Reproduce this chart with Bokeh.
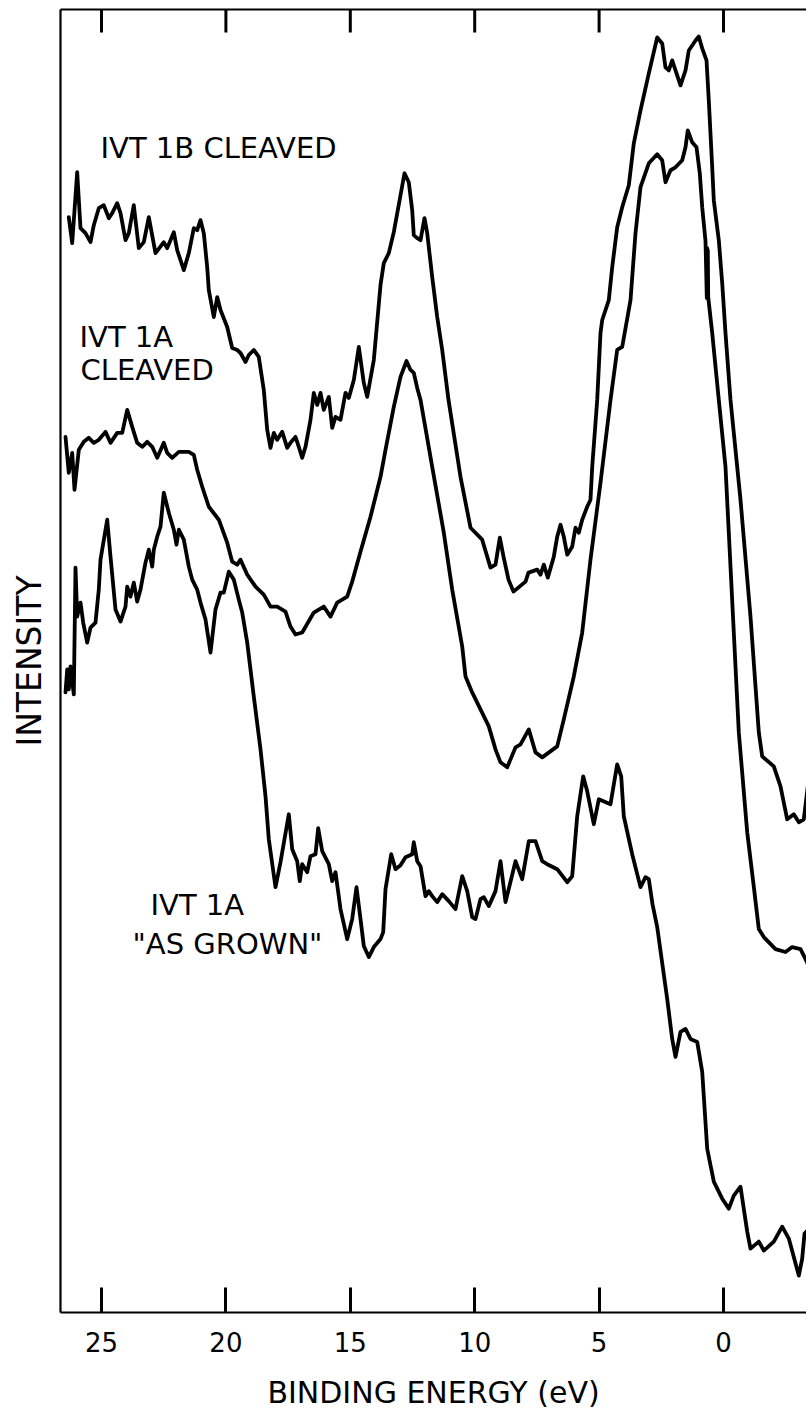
from bokeh.plotting import figure
from bokeh.models import Range1d, LinearAxis, FixedTicker, Label
from bokeh.embed import file_html
from bokeh.resources import INLINE

# Binding energy (eV) and intensity (arb. units) for each spectrum
energy_1b = [26.315, 26.178, 25.977, 25.844, 25.643, 25.442, 25.310, 25.109, 24.908, 24.707,
             24.570, 24.369, 24.236, 24.035, 23.903, 23.702, 23.501, 23.300, 23.099, 22.830,
             22.496, 22.360, 22.094, 21.958, 21.692, 21.491, 21.290, 21.154, 21.021, 20.888,
             20.752, 20.687, 20.486, 20.350, 20.217, 19.948, 19.747, 19.546, 19.413, 19.212,
             19.080, 18.879, 18.678, 18.477, 18.340, 18.207, 18.075, 17.938, 17.737, 17.536,
             17.404, 17.203, 17.070, 16.933, 16.801, 16.600, 16.467, 16.330, 16.198, 16.065,
             15.864, 15.728, 15.595, 15.394, 15.193, 15.060, 14.859, 14.658, 14.457, 14.321,
             14.055, 13.786, 13.654, 13.453, 13.252, 12.982, 12.822, 12.649, 12.512, 12.448,
             12.311, 12.178, 12.018, 11.909, 11.708, 11.507, 11.306, 11.053, 10.571, 10.169,
             9.699, 9.365, 9.164, 8.991, 8.842, 8.641, 8.441, 7.958, 7.838, 7.488,
             7.355, 7.223, 7.062, 6.821, 6.684, 6.551, 6.419, 6.282, 6.081, 5.949,
             5.816, 5.679, 5.478, 5.346, 5.277, 5.076, 4.944, 4.875, 4.610, 4.473,
             4.273, 4.072, 3.806, 3.605, 3.336, 3.002, 2.665, 2.464, 2.331, 2.199,
             2.062, 1.929, 1.728, 1.527, 1.395, 1.125, 0.993, 0.856, 0.683, 0.591,
             0.454, 0.390, 0.189, 0.052, -0.080, -0.281, -0.683, -1.085, -1.419, -1.555,
             -2.022, -2.291, -2.560, -2.826, -3.027, -3.227, -3.336, -3.40]
intensity_1b = [109.7, 107.1, 114.2, 108.6, 108.1, 107.2, 108.9, 110.6, 110.9, 109.6,
                110.1, 111.1, 110.1, 107.4, 108.1, 110.9, 106.6, 107.2, 109.7, 106.1,
                107.2, 106.6, 108.2, 106.4, 104.4, 106.1, 108.6, 108.4, 109.4, 108.1,
                104.7, 102.4, 99.7, 101.7, 100.4, 98.7, 96.6, 96.4, 96.1, 95.2,
                95.9, 96.4, 95.7, 92.4, 88.4, 86.6, 88.1, 87.4, 88.2, 86.6,
                87.1, 87.7, 86.7, 85.6, 86.7, 89.4, 92.1, 90.9, 92.1, 90.4,
                91.7, 88.6, 89.7, 89.4, 92.1, 91.6, 93.4, 96.7, 93.1, 91.7,
                95.4, 102.9, 105.1, 106.1, 108.2, 111.9, 114.1, 113.2, 110.4, 107.9,
                107.6, 107.4, 109.6, 108.1, 103.7, 99.7, 96.4, 91.4, 83.7, 78.6,
                77.4, 74.6, 74.9, 77.6, 75.7, 73.4, 72.2, 73.2, 74.1, 74.4,
                73.9, 74.9, 73.6, 75.7, 77.7, 78.9, 77.7, 75.9, 76.7, 78.6,
                78.1, 79.4, 80.7, 81.4, 84.7, 91.4, 98.1, 99.4, 101.4, 104.7,
                108.7, 110.7, 112.9, 117.1, 120.4, 124.1, 127.7, 127.1, 124.7, 124.4,
                125.4, 124.4, 122.9, 124.4, 126.4, 127.4, 127.8, 126.6, 125.4, 121.4,
                114.7, 111.4, 107.4, 103.1, 98.1, 91.4, 81.4, 69.7, 58.1, 55.7,
                54.7, 52.7, 49.4, 49.9, 49.1, 49.4, 51.6, 53.0]

energy_1a = [26.447, 26.315, 26.178, 26.085, 25.912, 25.711, 25.510, 25.310, 25.109, 24.839,
             24.638, 24.369, 24.168, 23.967, 23.766, 23.565, 23.364, 23.163, 22.962, 22.761,
             22.496, 22.360, 22.158, 21.893, 21.491, 21.290, 21.154, 20.953, 20.687, 20.285,
             19.948, 19.747, 19.546, 19.413, 19.144, 18.810, 18.477, 18.207, 17.938, 17.605,
             17.404, 17.203, 16.933, 16.467, 16.065, 15.796, 15.527, 15.125, 14.924, 14.590,
             14.188, 13.786, 13.585, 13.252, 12.982, 12.741, 12.580, 12.448, 12.311, 12.178,
             11.708, 11.242, 10.904, 10.502, 10.370, 10.101, 9.767, 9.433, 9.164, 8.963,
             8.694, 8.360, 8.159, 7.826, 7.556, 7.287, 6.684, 6.419, 6.017, 5.679,
             5.346, 4.944, 4.542, 4.273, 4.072, 3.738, 3.537, 3.336, 3.002, 2.665,
             2.464, 2.331, 2.130, 1.929, 1.660, 1.527, 1.435, 1.258, 1.085, 0.953,
             0.856, 0.723, 0.671, 0.655, 0.643, 0.631, 0.615, 0.454, 0.189, -0.080,
             -0.213, -0.414, -0.615, -0.953, -1.206, -1.419, -1.620, -2.090, -2.492, -2.761,
             -3.095, -3.336, -3.40]
intensity_1a = [87.7, 84.1, 86.1, 82.4, 86.4, 87.2, 87.6, 87.1, 87.4, 88.2,
                87.1, 88.1, 88.1, 90.4, 88.7, 87.1, 86.7, 87.2, 86.7, 85.6,
                87.1, 86.1, 85.6, 86.2, 86.2, 85.9, 84.4, 82.7, 80.7, 79.4,
                77.1, 75.2, 74.9, 75.4, 73.9, 72.7, 71.9, 70.7, 70.7, 70.2,
                68.7, 67.9, 68.1, 70.1, 70.7, 69.7, 71.1, 71.7, 73.2, 76.2,
                79.7, 83.7, 86.4, 90.7, 93.7, 95.3, 94.4, 94.1, 92.6, 91.4,
                84.7, 78.1, 72.4, 66.7, 63.7, 62.1, 60.4, 58.7, 56.4, 55.1,
                54.6, 56.6, 56.9, 58.4, 56.1, 55.6, 56.7, 59.4, 63.7, 68.1,
                75.4, 83.1, 91.4, 96.4, 96.7, 101.4, 108.1, 112.7, 115.1, 116.0,
                115.4, 113.2, 114.4, 114.7, 115.4, 116.7, 118.4, 117.2, 116.7, 114.1,
                110.7, 107.3, 101.6, 106.6, 101.8, 106.4, 101.7, 98.1, 91.4, 84.7,
                78.1, 68.1, 58.1, 48.1, 42.9, 38.4, 37.6, 36.4, 36.1, 36.6,
                36.4, 35.2, 34.8]

energy_grown = [26.447, 26.378, 26.315, 26.246, 26.113, 26.045, 25.977, 25.844, 25.736, 25.575,
                25.442, 25.241, 25.109, 25.040, 24.771, 24.638, 24.437, 24.236, 24.035, 23.967,
                23.834, 23.702, 23.565, 23.433, 23.232, 23.099, 22.962, 22.898, 22.761, 22.629,
                22.496, 22.295, 22.094, 21.986, 21.893, 21.692, 21.491, 21.355, 21.154, 21.021,
                20.820, 20.619, 20.418, 20.217, 20.084, 19.883, 19.683, 19.482, 19.345, 19.144,
                18.879, 18.609, 18.408, 18.276, 18.006, 17.805, 17.472, 17.335, 17.134, 17.030,
                16.933, 16.732, 16.600, 16.399, 16.290, 16.129, 15.864, 15.728, 15.595, 15.394,
                15.125, 14.924, 14.751, 14.590, 14.457, 14.256, 14.055, 13.786, 13.678, 13.585,
                13.356, 13.183, 12.982, 12.781, 12.512, 12.448, 12.311, 12.178, 11.978, 11.845,
                11.708, 11.507, 11.306, 11.041, 10.772, 10.502, 10.301, 10.101, 9.968, 9.767,
                9.634, 9.433, 9.164, 8.963, 8.762, 8.360, 8.091, 7.826, 7.556, 7.287,
                7.086, 6.684, 6.282, 6.081, 5.880, 5.639, 5.478, 5.213, 5.012, 4.542,
                4.273, 4.112, 4.007, 3.670, 3.336, 3.135, 3.002, 2.854, 2.665, 2.263,
                2.062, 1.929, 1.728, 1.527, 1.326, 1.057, 0.856, 0.655, 0.390, 0.052,
                -0.213, -0.414, -0.683, -0.953, -1.085, -1.419, -1.620, -2.022, -2.359, -2.625,
                -3.027, -3.163, -3.256, -3.336, -3.40]
intensity_grown = [62.1, 64.4, 62.4, 64.7, 61.9, 74.6, 69.7, 71.1, 69.1, 67.1,
                   68.6, 69.1, 72.4, 75.4, 79.4, 75.7, 70.4, 69.2, 70.7, 72.7,
                   71.7, 73.1, 71.2, 72.4, 75.1, 76.4, 74.7, 76.4, 77.7, 78.7,
                   82.1, 80.1, 78.4, 76.9, 78.4, 77.4, 74.7, 73.4, 72.4, 71.1,
                   69.4, 66.1, 70.4, 72.1, 72.1, 74.2, 73.4, 71.4, 70.1, 67.1,
                   61.7, 56.4, 51.7, 47.4, 42.6, 45.1, 49.9, 46.4, 45.2, 43.2,
                   44.9, 44.1, 45.7, 45.9, 48.5, 46.2, 44.9, 43.2, 44.1, 40.4,
                   37.4, 39.4, 42.6, 39.4, 36.7, 35.6, 36.6, 37.4, 38.1, 42.4,
                   45.9, 44.4, 44.8, 45.6, 45.9, 47.1, 45.2, 44.7, 41.7, 42.2,
                   41.7, 41.1, 41.9, 41.2, 40.4, 43.7, 42.2, 39.6, 39.4, 41.4,
                   41.6, 40.7, 42.2, 45.2, 41.1, 45.2, 43.4, 47.2, 47.2, 45.2,
                   44.9, 44.4, 43.1, 43.7, 49.7, 53.7, 52.2, 48.9, 51.4, 50.9,
                   54.9, 53.7, 49.7, 45.9, 42.6, 43.6, 43.4, 40.9, 38.6, 31.4,
                   27.4, 25.6, 28.1, 28.4, 27.4, 27.1, 24.1, 16.4, 13.1, 11.4,
                   10.4, 11.7, 12.6, 8.1, 6.4, 7.1, 6.2, 7.1, 8.6, 7.4,
                   3.7, 5.4, 7.9, 8.1, 8.3]

energy_ticks = [25, 20, 15, 10, 5, 0]

# Curve annotations: (text, binding energy, intensity)
curve_labels = [
    ("IVT 1B CLEAVED", 25.04, 116.6),
    ("IVT 1A", 25.884, 97.7),
    ("CLEAVED", 25.844, 94.4),
    ("IVT 1A", 23.031, 40.8),
    ('"AS GROWN"', 23.754, 36.9),
]

FONT = "DejaVu Sans"
Y_LO, Y_HI = 0, 130.5
TICK_TOP = 2.3   # inward tick length on the top edge, intensity units

p = figure(width=806, height=1412, output_backend="svg", toolbar_location=None,
           x_range=Range1d(26.648, -3.336), y_range=Range1d(Y_LO, Y_HI),
           x_axis_location=None, y_axis_location=None,
           min_border_left=60, min_border_right=0, min_border_top=9, min_border_bottom=98)
p.outline_line_color = None
p.grid.visible = False

for e, i in [(energy_1b, intensity_1b), (energy_1a, intensity_1a), (energy_grown, intensity_grown)]:
    p.line(e, i, line_color="black", line_width=3.8, line_join="round", line_cap="round")

# inward tick marks along the top edge
p.multi_line(xs=[[t, t] for t in energy_ticks],
             ys=[[Y_HI, Y_HI - TICK_TOP] for _ in energy_ticks],
             line_color="black", line_width=3)

# bottom axis: frame line, inward ticks and energy labels
xb = LinearAxis(ticker=FixedTicker(ticks=energy_ticks), minor_tick_line_color=None,
                major_tick_in=25, major_tick_out=0,
                major_tick_line_color="black", major_tick_line_width=3,
                axis_line_width=2.2,
                axis_label="BINDING ENERGY (eV)", axis_label_standoff=20,
                axis_label_text_font=FONT, axis_label_text_font_size="30px",
                axis_label_text_font_style="normal", axis_label_text_color="black",
                major_label_text_font=FONT, major_label_text_font_size="26px",
                major_label_text_color="black", major_label_standoff=19)
p.add_layout(xb, "below")

# top axis: frame line only
xt = LinearAxis(ticker=FixedTicker(ticks=[]), minor_tick_line_color=None,
                major_tick_in=0, major_tick_out=0, axis_line_width=2.2,
                major_label_standoff=0)
p.add_layout(xt, "above")

# left axis: frame line with the intensity label
yl = LinearAxis(ticker=FixedTicker(ticks=[]), minor_tick_line_color=None,
                major_tick_in=0, major_tick_out=0, axis_line_width=2.2,
                major_label_standoff=0,
                axis_label="INTENSITY", axis_label_standoff=12,
                axis_label_text_font=FONT, axis_label_text_font_size="33px",
                axis_label_text_font_style="normal", axis_label_text_color="black")
p.add_layout(yl, "left")

for text, e, i in curve_labels:
    p.add_layout(Label(x=e, y=i, text=text, text_font=FONT, text_font_size="29px",
                       text_align="left", text_baseline="middle", text_color="black"))

open("out.html", "w").write(file_html(p, INLINE))
